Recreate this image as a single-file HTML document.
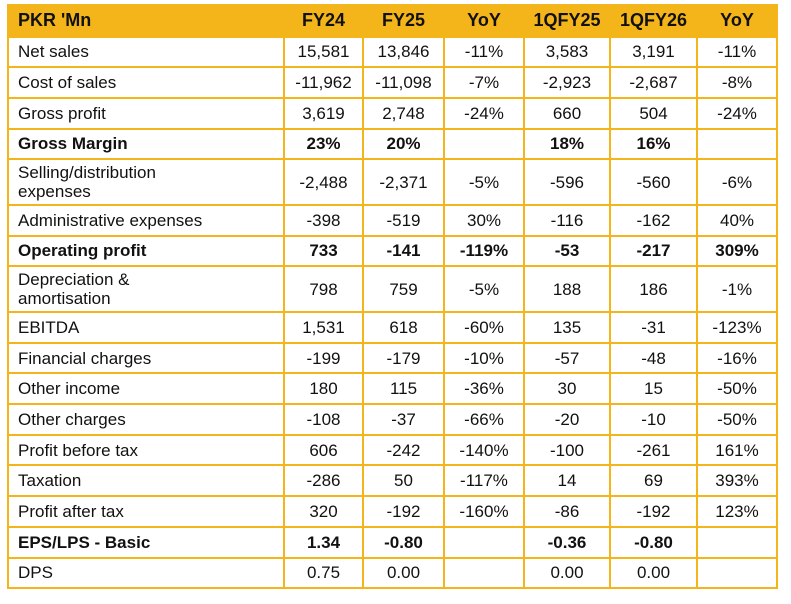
<!DOCTYPE html>
<html><head><style>
body{margin:0;background:#fff;width:791px;height:604px;overflow:hidden}
table{position:absolute;left:7px;top:4px;border-collapse:collapse;font-family:"Liberation Sans",sans-serif;font-size:17px;color:#111;table-layout:fixed}
td{border:2px solid #F4B51A;padding:0 0 0 9px;height:28.7px;line-height:19px;text-align:center}
td:first-child{text-align:left}
tr.h td{background:#F4B51A;font-weight:bold;height:29.5px;font-size:18px}
tr.d td{height:43.7px}
tr.b td{font-weight:bold}
td:not(:first-child){padding:0}
</style></head><body>
<table>
<colgroup><col style="width:276px"><col style="width:79px"><col style="width:81px"><col style="width:80px"><col style="width:86px"><col style="width:87px"><col style="width:80px"></colgroup>
<tr class="h"><td>PKR 'Mn</td><td>FY24</td><td>FY25</td><td>YoY</td><td>1QFY25</td><td>1QFY26</td><td>YoY</td></tr>
<tr><td>Net sales</td><td>15,581</td><td>13,846</td><td>-11%</td><td>3,583</td><td>3,191</td><td>-11%</td></tr>
<tr><td>Cost of sales</td><td>-11,962</td><td>-11,098</td><td>-7%</td><td>-2,923</td><td>-2,687</td><td>-8%</td></tr>
<tr><td>Gross profit</td><td>3,619</td><td>2,748</td><td>-24%</td><td>660</td><td>504</td><td>-24%</td></tr>
<tr class="b"><td>Gross Margin</td><td>23%</td><td>20%</td><td></td><td>18%</td><td>16%</td><td></td></tr>
<tr class="d"><td>Selling/distribution<br>expenses</td><td>-2,488</td><td>-2,371</td><td>-5%</td><td>-596</td><td>-560</td><td>-6%</td></tr>
<tr><td>Administrative expenses</td><td>-398</td><td>-519</td><td>30%</td><td>-116</td><td>-162</td><td>40%</td></tr>
<tr class="b"><td>Operating profit</td><td>733</td><td>-141</td><td>-119%</td><td>-53</td><td>-217</td><td>309%</td></tr>
<tr class="d"><td>Depreciation &amp;<br>amortisation</td><td>798</td><td>759</td><td>-5%</td><td>188</td><td>186</td><td>-1%</td></tr>
<tr><td>EBITDA</td><td>1,531</td><td>618</td><td>-60%</td><td>135</td><td>-31</td><td>-123%</td></tr>
<tr><td>Financial charges</td><td>-199</td><td>-179</td><td>-10%</td><td>-57</td><td>-48</td><td>-16%</td></tr>
<tr><td>Other income</td><td>180</td><td>115</td><td>-36%</td><td>30</td><td>15</td><td>-50%</td></tr>
<tr><td>Other charges</td><td>-108</td><td>-37</td><td>-66%</td><td>-20</td><td>-10</td><td>-50%</td></tr>
<tr><td>Profit before tax</td><td>606</td><td>-242</td><td>-140%</td><td>-100</td><td>-261</td><td>161%</td></tr>
<tr><td>Taxation</td><td>-286</td><td>50</td><td>-117%</td><td>14</td><td>69</td><td>393%</td></tr>
<tr><td>Profit after tax</td><td>320</td><td>-192</td><td>-160%</td><td>-86</td><td>-192</td><td>123%</td></tr>
<tr class="b"><td>EPS/LPS - Basic</td><td>1.34</td><td>-0.80</td><td></td><td>-0.36</td><td>-0.80</td><td></td></tr>
<tr><td>DPS</td><td>0.75</td><td>0.00</td><td></td><td>0.00</td><td>0.00</td><td></td></tr>
</table>
</body></html>
